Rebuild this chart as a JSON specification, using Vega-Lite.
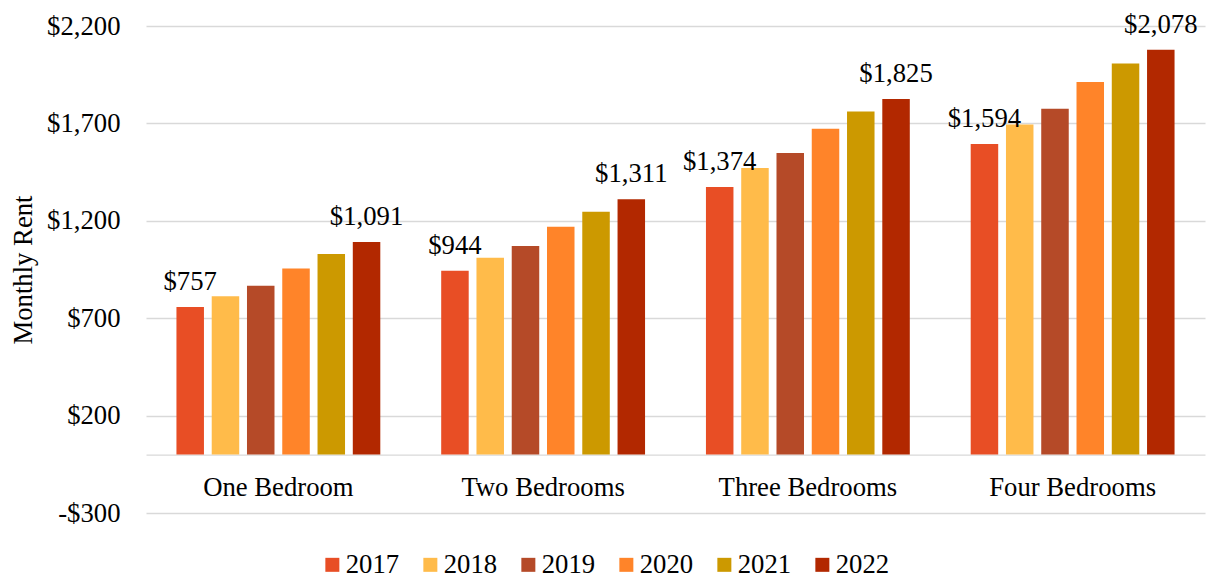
{
  "$schema": "https://vega.github.io/schema/vega-lite/v6.json",
  "width": 1059,
  "height": 487,
  "autosize": {"type": "none"},
  "padding": {"left": 146, "top": 26, "right": 4, "bottom": 65},
  "config": {
    "font": "'Liberation Serif', 'Times New Roman', serif",
    "view": {"stroke": null},
    "axis": {"labelFont": "'Liberation Serif', 'Times New Roman', serif", "titleFont": "'Liberation Serif', 'Times New Roman', serif", "labelColor": "#000000", "titleColor": "#000000"},
    "legend": {"labelFont": "'Liberation Serif', 'Times New Roman', serif"},
    "text": {"font": "'Liberation Serif', 'Times New Roman', serif"}
  },
  "data": {
    "values": [
      {"type": "One Bedroom", "year": "2017", "rent": 757},
      {"type": "One Bedroom", "year": "2018", "rent": 813},
      {"type": "One Bedroom", "year": "2019", "rent": 866},
      {"type": "One Bedroom", "year": "2020", "rent": 955},
      {"type": "One Bedroom", "year": "2021", "rent": 1029},
      {"type": "One Bedroom", "year": "2022", "rent": 1091},
      {"type": "Two Bedrooms", "year": "2017", "rent": 944},
      {"type": "Two Bedrooms", "year": "2018", "rent": 1010},
      {"type": "Two Bedrooms", "year": "2019", "rent": 1070},
      {"type": "Two Bedrooms", "year": "2020", "rent": 1169},
      {"type": "Two Bedrooms", "year": "2021", "rent": 1246},
      {"type": "Two Bedrooms", "year": "2022", "rent": 1311},
      {"type": "Three Bedrooms", "year": "2017", "rent": 1374},
      {"type": "Three Bedrooms", "year": "2018", "rent": 1471},
      {"type": "Three Bedrooms", "year": "2019", "rent": 1548},
      {"type": "Three Bedrooms", "year": "2020", "rent": 1673},
      {"type": "Three Bedrooms", "year": "2021", "rent": 1761},
      {"type": "Three Bedrooms", "year": "2022", "rent": 1825},
      {"type": "Four Bedrooms", "year": "2017", "rent": 1594},
      {"type": "Four Bedrooms", "year": "2018", "rent": 1694},
      {"type": "Four Bedrooms", "year": "2019", "rent": 1775},
      {"type": "Four Bedrooms", "year": "2020", "rent": 1913},
      {"type": "Four Bedrooms", "year": "2021", "rent": 2008},
      {"type": "Four Bedrooms", "year": "2022", "rent": 2078}
    ]
  },
  "encoding": {
    "x": {
      "field": "type",
      "type": "nominal",
      "sort": ["One Bedroom", "Two Bedrooms", "Three Bedrooms", "Four Bedrooms"],
      "scale": {"paddingInner": 0.23, "paddingOuter": 0.115},
      "axis": {
        "title": null,
        "labelAngle": 0,
        "labelFontSize": 26.7,
        "labelPadding": 20,
        "ticks": false,
        "offset": -58.44,
        "domainColor": "#D9D9D9",
        "domainWidth": 1.3
      }
    },
    "xOffset": {
      "field": "year",
      "type": "nominal",
      "scale": {"paddingInner": 0.22, "paddingOuter": 0}
    },
    "y": {
      "field": "rent",
      "type": "quantitative",
      "scale": {"domain": [-300, 2200], "nice": false, "zero": false},
      "axis": {
        "title": "Monthly Rent",
        "titleFontSize": 26.7,
        "titleFontWeight": "normal",
        "titlePadding": 9,
        "values": [-300, 200, 700, 1200, 1700, 2200],
        "labelExpr": "datum.value < 0 ? '-$' + format(-datum.value, ',') : '$' + format(datum.value, ',')",
        "labelFontSize": 26.7,
        "labelPadding": 26,
        "ticks": false,
        "domain": false,
        "grid": true,
        "gridColor": "#D9D9D9",
        "gridWidth": 1.3
      }
    }
  },
  "layer": [
    {
      "mark": {"type": "bar"},
      "encoding": {
        "y": {"field": "rent", "type": "quantitative"},
        "y2": {"datum": 0},
        "color": {
          "field": "year",
          "type": "nominal",
          "scale": {
            "domain": ["2017", "2018", "2019", "2020", "2021", "2022"],
            "range": ["#E84E25", "#FFBB4A", "#B54A28", "#FF8429", "#CC9900", "#B22800"]
          },
          "legend": {
            "title": null,
            "orient": "none",
            "direction": "horizontal",
            "legendX": 173,
            "legendY": 525,
            "padding": 0,
            "symbolType": "square",
            "symbolSize": 196,
            "symbolStrokeWidth": 0,
            "labelFontSize": 26.7,
            "labelOffset": 0,
            "columnPadding": 17,
            "labelColor": "#000000"
          }
        }
      }
    },
    {
      "transform": [{"filter": "datum.year == '2017' || datum.year == '2022'"}],
      "mark": {"type": "text", "baseline": "alphabetic", "dy": -17, "fontSize": 26.7, "color": "#000000", "font": "'Liberation Serif', 'Times New Roman', serif"},
      "encoding": {
        "text": {"field": "rent", "type": "quantitative", "format": "$,.0f"}
      }
    }
  ]
}
